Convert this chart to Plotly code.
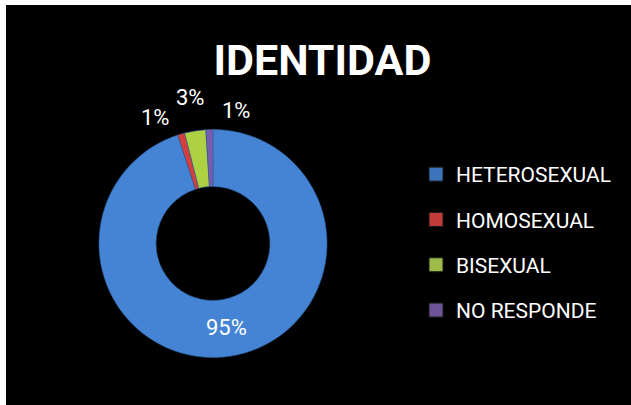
import math
import plotly.graph_objects as go

categories = ["HETEROSEXUAL", "HOMOSEXUAL", "BISEXUAL", "NO RESPONDE"]
values = [95, 1, 3, 1]
value_labels = ["95%", "1%", "3%", "1%"]
colors = ["#4584D4", "#D43E3B", "#AED043", "#7A5CAE"]
legend_colors = ["#3C74BC", "#C23B38", "#9CBB48", "#6E559A"]
title_text = "IDENTIDAD"

FONT = "Roboto, Lato, sans-serif"
W, H = 631, 405

# pie geometry (pixels)
CX, CY, R = 213, 243.5, 114
HOLE = 0.5

# label placement style for the small (outside) slices: angular nudge (deg) and radius factor
label_nudge = [0, -8.5, 0, 11.5]
label_rfac = [0, 1.22, 1.30, 1.18]

fig = go.Figure()

inside_text = [t if i == 0 else "" for i, t in enumerate(value_labels)]

fig.add_trace(go.Pie(
    labels=categories,
    values=values,
    text=inside_text,
    texttemplate="%{text}",
    textinfo="text",
    hole=HOLE,
    sort=False,
    direction="clockwise",
    rotation=0,
    marker=dict(colors=colors, line=dict(color="#2E5F9E", width=0.6)),
    textposition="inside",
    insidetextorientation="horizontal",
    insidetextfont=dict(family=FONT, size=22, color="white"),
    domain=dict(x=[(CX - R) / W, (CX + R) / W], y=[(H - CY - R) / H, (H - CY + R) / H]),
    showlegend=False,
    hoverinfo="label+percent",
))

# outside labels, positioned from each slice's mid-angle
total = sum(values)
annotations = []
cum = 0.0
for i, (v, lab) in enumerate(zip(values, value_labels)):
    mid = (cum + v / 2) / total * 360.0  # clockwise from 12 o'clock
    cum += v
    if i == 0:
        continue
    ang = math.radians(mid + label_nudge[i])
    r = R * label_rfac[i]
    px = CX + r * math.sin(ang)
    py = CY - r * math.cos(ang)
    annotations.append(dict(
        x=px / W, y=1 - py / H, xref="paper", yref="paper",
        text=lab, showarrow=False, xanchor="center", yanchor="middle",
        font=dict(family=FONT, size=22, color="white"),
    ))

for i, (cat, col) in enumerate(zip(categories, legend_colors)):
    fig.add_trace(go.Scatter(
        x=[None], y=[None], mode="markers", name=cat,
        legendgroup=f"g{i}",
        marker=dict(symbol="square", size=14, color=col,
                    line=dict(color="#1a1a1a", width=1)),
        showlegend=True,
    ))

fig.update_layout(
    width=W, height=H,
    margin=dict(l=0, r=0, t=0, b=0),
    paper_bgcolor="black",
    plot_bgcolor="black",
    xaxis=dict(visible=False),
    yaxis=dict(visible=False),
    title=dict(
        text=title_text,
        font=dict(family=FONT, size=43, color="white", weight="bold"),
        x=0.511, xanchor="center",
        y=1 - 59.5 / H, yanchor="middle",
    ),
    legend=dict(
        x=416 / W, xanchor="left",
        y=1 - 154 / H, yanchor="top",
        font=dict(family=FONT, size=21, color="white"),
        bgcolor="rgba(0,0,0,0)",
        tracegroupgap=15,
        itemwidth=30,
    ),
    annotations=annotations,
    shapes=[
        dict(type="rect", xref="paper", yref="paper", x0=0, x1=1,
             y0=1 - 5 / H, y1=1, fillcolor="white", line=dict(width=0), layer="above"),
        dict(type="rect", xref="paper", yref="paper", x0=0, x1=6 / W,
             y0=0, y1=1, fillcolor="white", line=dict(width=0), layer="above"),
    ],
)

fig.write_html("out.html", config={"displayModeBar": False},
               post_script="document.body.style.margin='0';")
